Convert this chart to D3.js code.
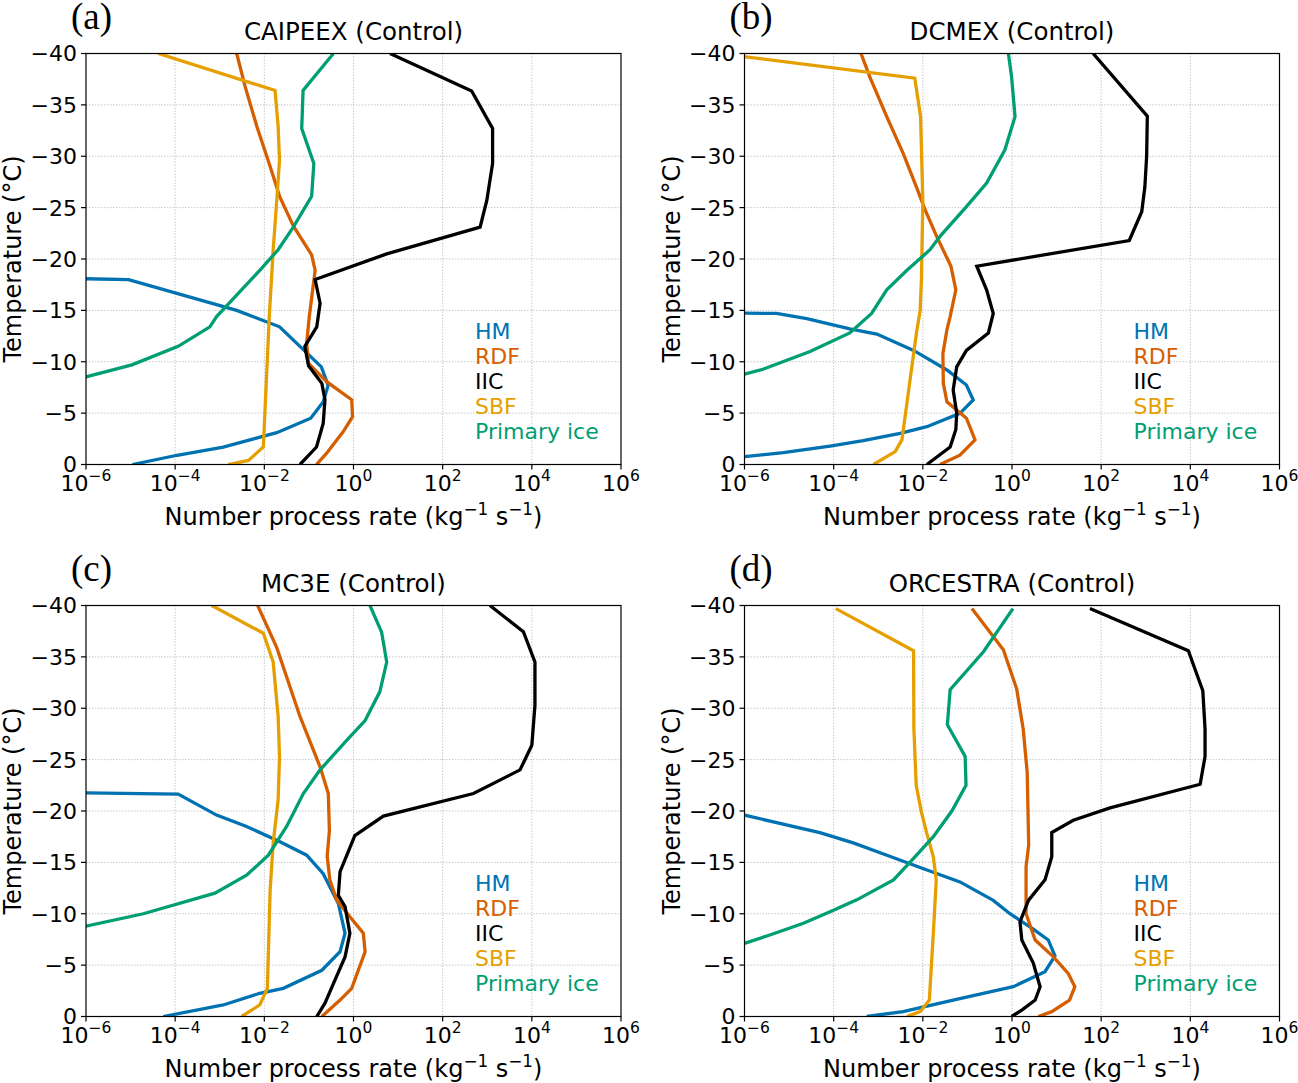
<!DOCTYPE html>
<html>
<head>
<meta charset="utf-8">
<script src="https://cdn.jsdelivr.net/npm/d3@7"></script>
<style>
    body { margin: 0; background: #fff; }
    svg text { font-family: "DejaVu Sans", sans-serif; fill: #000; }
</style>
</head>
<body>
<div id="chart"></div>
<script>
// [temperature (°C), number process rate (kg-1 s-1)]; 0 = no process (drawn clipped far left, like matplotlib)

// (a) CAIPEEX
const caipeexHM = [[-20, 0], [-18, 9e-6], [-15.0, 2.4e-3], [-13.4, 0.022], [-9.5, 0.19], [-7.7, 0.27], [-6.1, 0.21], [-4.5, 0.11], [-3.1, 0.019], [-1.7, 1.2e-3], [-0.9, 1.1e-4], [0, 1.1e-5]];
const caipeexRDF = [[-40, 2.4e-3], [-36.8, 3.7e-3], [-32.9, 6.8e-3], [-29.0, 0.0135], [-26.1, 0.022], [-23.2, 0.045], [-20.4, 0.115], [-18.9, 0.138], [-14.4, 0.102], [-11.8, 0.089], [-9.85, 0.098], [-8.06, 0.25], [-6.3, 0.91], [-4.65, 0.955], [-3.2, 0.59], [-1.1, 0.25], [0, 0.148]];
const caipeexIIC = [[-40, 6.6], [-36.35, 447], [-32.7, 1318], [-29.3, 1318], [-25.7, 977], [-23.1, 692], [-20.5, 5.56], [-18.0, 0.138], [-15.7, 0.178], [-13.4, 0.15], [-11.5, 0.081], [-9.6, 0.098], [-7.9, 0.195], [-6.3, 0.229], [-4.0, 0.209], [-1.7, 0.148], [0, 0.063]];
const caipeexSBF = [[-40, 4.2e-5], [-36.4, 0.0174], [-32.9, 0.0204], [-29.6, 0.0219], [-25.7, 0.019], [-20.9, 0.0158], [-14.4, 0.0129], [-1.7, 9.5e-3], [-0.4, 4.4e-3], [0, 1.55e-3]];
const caipeexPrimary = [[-40, 0.355], [-36.4, 0.074], [-32.7, 0.069], [-29.3, 0.129], [-26.1, 0.115], [-23.1, 0.0447], [-20.9, 0.0204], [-18.9, 7.9e-3], [-14.4, 8.5e-4], [-13.4, 6.0e-4], [-11.5, 1.17e-4], [-9.7, 1.07e-5], [-8.55, 1.05e-6], [-7.4, 1e-7]];

// (b) DCMEX
const dcmexHM = [[-16, 0], [-14.7, 5.2e-6], [-14.2, 2.5e-5], [-13.2, 2.3e-4], [-12.7, 9.3e-4], [-11.1, 6.2e-3], [-9.2, 0.0347], [-7.74, 0.095], [-6.28, 0.135], [-4.98, 0.068], [-3.68, 0.0123], [-3.03, 3.1e-3], [-2.32, 4.6e-4], [-1.8, 8.3e-5], [-1.15, 7.4e-6], [-0.76, 1.0e-6], [0, 2e-8]];
const dcmexRDF = [[-40, 4.1e-4], [-37.7, 6.5e-4], [-33.85, 1.55e-3], [-30.3, 3.6e-3], [-27.0, 7.2e-3], [-24.8, 0.0112], [-22.2, 0.0204], [-19.3, 0.0427], [-17.0, 0.055], [-14.4, 0.041], [-13.1, 0.0347], [-10.8, 0.0282], [-7.9, 0.0288], [-6.1, 0.0347], [-4.5, 0.095], [-2.4, 0.148], [-0.9, 0.068], [0, 0.0243]];
const dcmexIIC = [[-40, 66], [-33.9, 1084], [-30.0, 1047], [-27.0, 955], [-24.6, 813], [-21.8, 427], [-19.3, 0.162], [-17.0, 0.269], [-14.7, 0.38], [-12.8, 0.295], [-11.1, 0.095], [-9.5, 0.0575], [-7.25, 0.0479], [-5.0, 0.0575], [-3.4, 0.055], [-1.7, 0.041], [0, 0.0123]];
const dcmexSBF = [[-40, 2.8e-7], [-37.6, 6.6e-3], [-33.85, 8.9e-3], [-25.7, 0.01], [-18.0, 9.3e-3], [-15.0, 8.7e-3], [-12.8, 7.2e-3], [-6.0, 4.4e-3], [-2.4, 3.4e-3], [-1.25, 2.4e-3], [0, 7.8e-4]];
const dcmexPrimary = [[-40, 0.83], [-37.7, 0.98], [-33.85, 1.17], [-30.6, 0.69], [-27.4, 0.27], [-25.1, 0.095], [-22.2, 0.0243], [-20.9, 0.0145], [-18.9, 4.4e-3], [-17.0, 1.55e-3], [-14.7, 7.1e-4], [-12.8, 2.3e-4], [-11.0, 2.95e-5], [-9.27, 2.6e-6], [-8.8, 1.0e-6], [-7.8, 1e-7]];

// (c) MC3E
const mc3eHM = [[-23, 0], [-21.65, 1.17e-4], [-19.6, 8.5e-4], [-18.5, 4.0e-3], [-17.0, 0.0224], [-15.7, 0.089], [-13.9, 0.209], [-11.0, 0.457], [-8.1, 0.646], [-6.3, 0.5], [-4.5, 0.195], [-2.74, 0.0266], [-2.26, 7.9e-3], [-1.12, 1.2e-3], [0, 5.4e-5]];
const mc3eRDF = [[-40, 7.1e-3], [-35.9, 0.019], [-29.2, 0.063], [-24.3, 0.178], [-21.7, 0.272], [-18.1, 0.288], [-15.6, 0.257], [-13.3, 0.295], [-11.35, 0.417], [-9.7, 0.83], [-8.1, 1.66], [-6.3, 1.82], [-2.74, 0.91], [-1.6, 0.5], [0, 0.195]];
const mc3eIIC = [[-40, 1148], [-37.45, 6457], [-34.5, 11749], [-30.3, 11749], [-26.4, 10000], [-24.0, 5433], [-21.7, 490], [-19.5, 4.68], [-17.6, 1.07], [-15.7, 0.71], [-14.1, 0.5], [-11.8, 0.457], [-10.7, 0.646], [-8.1, 0.83], [-5.8, 0.646], [-3.9, 0.417], [-1.3, 0.229], [0, 0.15]];
const mc3eSBF = [[-40, 6.6e-4], [-37.3, 9.5e-3], [-34.5, 0.0158], [-29.2, 0.0204], [-25.3, 0.0219], [-21.1, 0.0204], [-16.9, 0.0158], [-12.3, 0.0135], [-2.74, 0.0117], [-1.12, 7.9e-3], [0, 3.1e-3]];
const mc3ePrimary = [[-40, 2.34], [-37.4, 4.27], [-34.5, 5.56], [-31.6, 3.89], [-28.8, 1.82], [-26.9, 0.71], [-24.0, 0.178], [-21.7, 0.075], [-18.5, 0.0316], [-15.7, 0.0123], [-13.75, 4.0e-3], [-12.0, 7.8e-4], [-10.0, 1.93e-5], [-8.8, 1.0e-6], [-7.9, 1e-7]];

// (d) ORCESTRA
const orcestraHM = [[-21, 4e-8], [-17.9, 4.9e-5], [-16.9, 2.75e-4], [-15.6, 1.8e-3], [-14.5, 8.7e-3], [-13.1, 0.068], [-11.3, 0.38], [-10.0, 0.9], [-8.5, 3.0], [-7.45, 6.5], [-5.9, 9.2], [-4.36, 5.5], [-2.9, 1.07], [-1.6, 0.048], [-0.47, 3.6e-3], [0, 5.5e-4]];
const orcestraRDF = [[-39.7, 0.126], [-35.7, 0.64], [-31.9, 1.27], [-28.0, 1.78], [-23.8, 2.19], [-16.7, 2.37], [-14.6, 2.07], [-10.0, 2.07], [-7.45, 3.31], [-5.8, 8.5], [-4.2, 18.2], [-2.9, 25.7], [-1.6, 19.5], [-0.47, 7.8], [0, 3.9]];
const orcestraIIC = [[-39.7, 56], [-35.6, 9016], [-31.7, 19055], [-28.0, 21380], [-25.3, 21380], [-22.6, 16596], [-20.3, 158], [-19.1, 23.7], [-17.9, 7.8], [-15.55, 7.8], [-13.3, 5.5], [-11.3, 2.34], [-9.2, 1.51], [-7.45, 1.66], [-5.2, 3.0], [-2.9, 4.27], [-1.6, 3.31], [-0.63, 1.66], [0, 0.98]];
const orcestraSBF = [[-39.7, 1.12e-4], [-35.6, 6.2e-3], [-28.0, 6.3e-3], [-22.5, 7.1e-3], [-19.9, 9.3e-3], [-17.8, 0.0123], [-15.55, 0.0172], [-13.3, 0.02], [-8.1, 0.0172], [-1.6, 0.014], [-0.47, 8.7e-3], [0, 4.4e-3]];
const orcestraPrimary = [[-39.7, 1.05], [-35.5, 0.229], [-31.8, 0.041], [-28.4, 0.0355], [-25.3, 0.089], [-22.5, 0.093], [-20.0, 0.0447], [-17.5, 0.0172], [-15.4, 6.2e-3], [-13.3, 2.2e-3], [-11.35, 3.3e-4], [-10.2, 8.3e-5], [-9.07, 2.1e-5], [-7.93, 3.7e-6], [-7.12, 1.0e-6], [-6.2, 1e-7]];

const processes = ["HM", "RDF", "IIC", "SBF", "Primary ice"];
const colours = ["#0072B2", "#D55E00", "#000000", "#E69F00", "#009E73"];
const xTicks = [1e-6, 1e-4, 1e-2, 1e0, 1e2, 1e4, 1e6];
const yTicks = [-40, -35, -30, -25, -20, -15, -10, -5, 0];

const panels = [
    {label: "(a)", title: "CAIPEEX (Control)", col: 0, row: 0, series: [caipeexHM, caipeexRDF, caipeexIIC, caipeexSBF, caipeexPrimary]},
    {label: "(b)", title: "DCMEX (Control)", col: 1, row: 0, series: [dcmexHM, dcmexRDF, dcmexIIC, dcmexSBF, dcmexPrimary]},
    {label: "(c)", title: "MC3E (Control)", col: 0, row: 1, series: [mc3eHM, mc3eRDF, mc3eIIC, mc3eSBF, mc3ePrimary]},
    {label: "(d)", title: "ORCESTRA (Control)", col: 1, row: 1, series: [orcestraHM, orcestraRDF, orcestraIIC, orcestraSBF, orcestraPrimary]}
];

const W = 1298, H = 1083;
const plotW = 535, plotH = 411;
const lefts = [86, 744.5], tops = [53.5, 605.5];

const svg = d3.select("#chart").append("svg")
    .attr("width", W)
    .attr("height", H);

const minus = s => String(s).replace("-", "\u2212");

panels.forEach((p, pi) => {
    let x0 = lefts[p.col], y0 = tops[p.row];

    let x = d3.scaleLog().domain([1e-6, 1e6]).range([0, plotW]);
    let y = d3.scaleLinear().domain([0, -40]).range([plotH, 0]);

    let g = svg.append("g")
        .attr("transform", `translate(${x0}, ${y0})`);

    g.append("clipPath")
        .attr("id", "clip" + pi)
        .append("rect")
        .attr("width", plotW)
        .attr("height", plotH);

    // grid
    g.selectAll(".xgrid")
        .data(xTicks.slice(1, -1))
        .enter()
        .append("line")
        .attr("x1", d => x(d)).attr("x2", d => x(d))
        .attr("y1", 0).attr("y2", plotH)
        .attr("stroke", "#c8c8c8")
        .attr("stroke-width", 1)
        .attr("stroke-dasharray", "1.5,1.5");

    g.selectAll(".ygrid")
        .data(yTicks.slice(1, -1))
        .enter()
        .append("line")
        .attr("x1", 0).attr("x2", plotW)
        .attr("y1", d => y(d)).attr("y2", d => y(d))
        .attr("stroke", "#c8c8c8")
        .attr("stroke-width", 1)
        .attr("stroke-dasharray", "1.5,1.5");

    // profiles
    let line = d3.line()
        .x(d => x(Math.max(d[1], 1e-30)))
        .y(d => y(d[0]));

    g.append("g")
        .attr("clip-path", `url(#clip${pi})`)
        .selectAll("path")
        .data(p.series)
        .enter()
        .append("path")
        .attr("d", line)
        .attr("fill", "none")
        .attr("stroke", (d, i) => colours[i])
        .attr("stroke-width", 3.3)
        .attr("stroke-linejoin", "miter")
        .attr("stroke-miterlimit", 3);

    // frame
    g.append("rect")
        .attr("width", plotW)
        .attr("height", plotH)
        .attr("fill", "none")
        .attr("stroke", "#000")
        .attr("stroke-width", 1.2);

    // x ticks
    let xt = g.selectAll(".xtick")
        .data(xTicks)
        .enter()
        .append("g")
        .attr("transform", d => `translate(${x(d)}, ${plotH})`);
    xt.append("line")
        .attr("y2", 5)
        .attr("stroke", "#000")
        .attr("stroke-width", 1.2);
    let xl = xt.append("text")
        .attr("y", 26.5)
        .attr("text-anchor", "middle")
        .style("font-size", "22px")
        .text("10");
    xl.append("tspan")
        .attr("dy", "-10")
        .style("font-size", "15.5px")
        .text(d => minus(Math.round(Math.log10(d))));

    // y ticks
    let yt = g.selectAll(".ytick")
        .data(yTicks)
        .enter()
        .append("g")
        .attr("transform", d => `translate(0, ${y(d)})`);
    yt.append("line")
        .attr("x2", -5)
        .attr("stroke", "#000")
        .attr("stroke-width", 1.2);
    yt.append("text")
        .attr("x", -9)
        .attr("dy", "0.36em")
        .attr("text-anchor", "end")
        .style("font-size", "22px")
        .text(d => minus(d));

    // axis labels
    let xlab = g.append("text")
        .attr("x", plotW / 2)
        .attr("y", plotH + 60)
        .attr("text-anchor", "middle")
        .style("font-size", "24px")
        .text("Number process rate (kg");
    xlab.append("tspan").attr("dy", "-10").style("font-size", "16.8px").text("\u22121");
    xlab.append("tspan").attr("dy", "10").text(" s");
    xlab.append("tspan").attr("dy", "-10").style("font-size", "16.8px").text("\u22121");
    xlab.append("tspan").attr("dy", "10").text(")");

    g.append("text")
        .attr("transform", `translate(${-65}, ${plotH / 2}) rotate(-90)`)
        .attr("text-anchor", "middle")
        .style("font-size", "24px")
        .text("Temperature (\u00B0C)");

    // title and panel label
    g.append("text")
        .attr("x", plotW / 2)
        .attr("y", -13.5)
        .attr("text-anchor", "middle")
        .style("font-size", "24.5px")
        .text(p.title);

    g.append("text")
        .attr("x", -15)
        .attr("y", -25)
        .style("font-family", "'Liberation Serif', serif")
        .style("font-size", "37px")
        .text(p.label);

    // text-only legend
    g.selectAll(".legend")
        .data(processes)
        .enter()
        .append("text")
        .attr("x", 389)
        .attr("y", (d, i) => 285 + i * 25)
        .style("font-size", "22px")
        .style("fill", (d, i) => colours[i])
        .text(d => d);
});
</script>
</body>
</html>
